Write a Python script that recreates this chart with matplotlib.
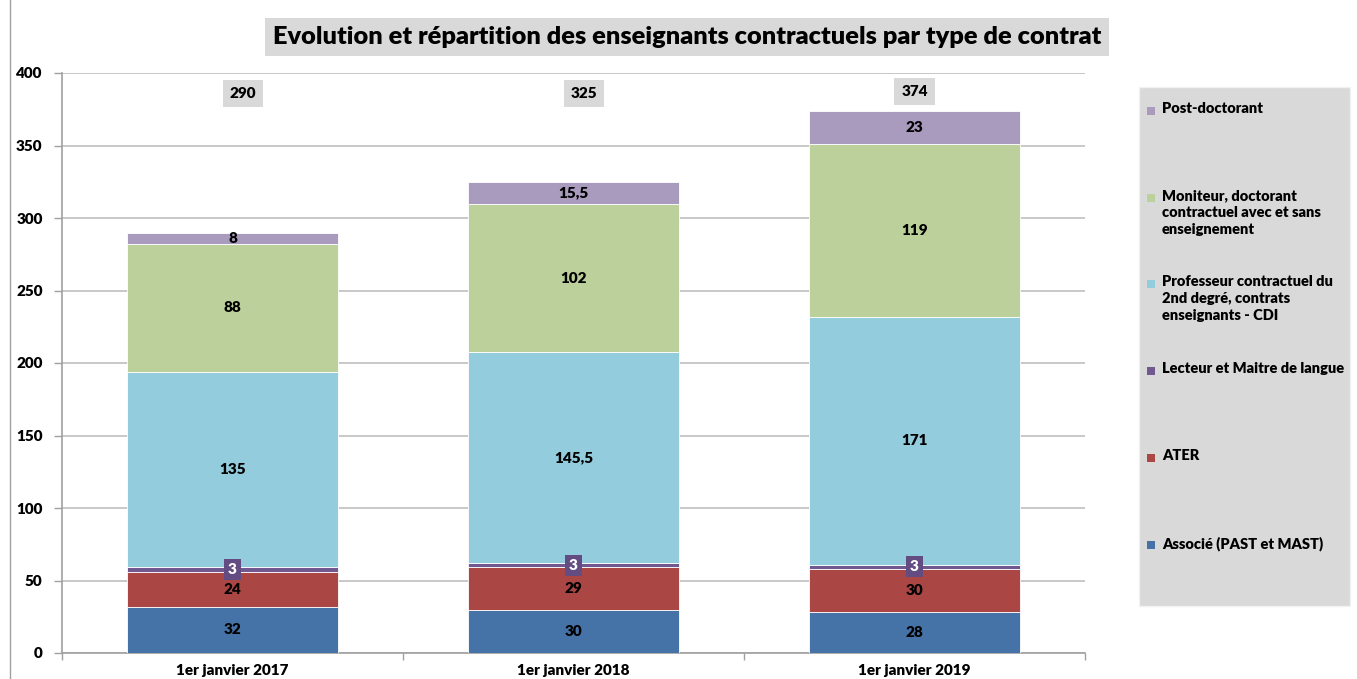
import matplotlib
matplotlib.use("Agg")
import matplotlib.pyplot as plt
from matplotlib.patches import Rectangle
from matplotlib.lines import Line2D
import numpy as np

plt.rcParams['font.family'] = ['Lato', 'DejaVu Sans']

categories = ["1er janvier 2017", "1er janvier 2018", "1er janvier 2019"]
series_names = [
    "Associé (PAST et MAST)",
    "ATER",
    "Lecteur et Maitre de langue",
    "Professeur contractuel du\n2nd degré, contrats\nenseignants - CDI",
    "Moniteur, doctorant\ncontractuel avec et sans\nenseignement",
    "Post-doctorant",
]
associe = [32, 30, 28]
ater = [24, 29, 30]
lecteur = [3, 3, 3]
professeur = [135, 145.5, 171]
moniteur = [88, 102, 119]
postdoc = [8, 15.5, 23]
totals = [290, 325, 374]
yticks = [0, 50, 100, 150, 200, 250, 300, 350, 400]

colors = ["#4572A7", "#AA4643", "#71588F", "#93CDDD", "#BBD09A", "#A99BBD"]
series = [associe, ater, lecteur, professeur, moniteur, postdoc]

W, H = 1357, 679
fig = plt.figure(figsize=(W / 100, H / 100), dpi=100)
ax = fig.add_axes([62 / W, 1 - 653 / H, (1085 - 62) / W, (653 - 73) / H])

x = np.arange(len(categories))
bottom = np.zeros(len(categories))
for vals, col in zip(series, colors):
    vals = np.array(vals, dtype=float)
    ax.bar(x, vals, bottom=bottom, width=0.62, color=col, edgecolor="white",
           linewidth=0.6, zorder=3)
    for xi, v, b in zip(x, vals, bottom):
        txt = (f"{v:g}").replace(".", ",")
        if col == "#71588F":
            ax.text(xi, b + v / 2, txt, ha="center", va="center", fontsize=11,
                    fontweight="heavy", color="white", zorder=5,
                    bbox=dict(boxstyle="square,pad=0.25", fc="#634C82", ec="none"))
        else:
            ax.text(xi, b + v / 2, txt, ha="center", va="center", fontsize=11,
                    fontweight="heavy", color="black", zorder=5)
    bottom += vals

for xi, t in zip(x, totals):
    ax.text(xi + (0.03 if xi < 2 else 0), 386 + (1 if xi == 2 else 0), str(t),
            ha="center", va="center", fontsize=11, fontweight="heavy",
            zorder=5, bbox=dict(boxstyle="square,pad=0.45", fc="#D9D9D9", ec="none"))

ax.set_xlim(-0.5, 2.5)
ax.set_ylim(0, 400)
ax.set_yticks(yticks)
ax.set_yticklabels([str(v) for v in yticks], fontsize=11, fontweight="heavy")
ax.yaxis.grid(True, color="#BFBFBF", linewidth=1.2, zorder=0)
ax.set_axisbelow(True)
ax.tick_params(axis="y", length=6, color="#A0A0A0", width=1, pad=8)
ax.set_xticks(x)
ax.set_xticklabels(categories, fontsize=11, fontweight="heavy")
ax.tick_params(axis="x", length=0, pad=8)
ax.set_xticks([-0.5, 0.5, 1.5, 2.5], minor=True)
ax.tick_params(axis="x", which="minor", length=5, color="#A0A0A0", width=1)
for s in ["top", "right"]:
    ax.spines[s].set_visible(False)
ax.spines["left"].set_color("#A0A0A0")
ax.spines["bottom"].set_color("#A0A0A0")
ax.spines["left"].set_linewidth(1.2)
ax.spines["bottom"].set_linewidth(1.2)

# title
fig.text(687 / W, 1 - 37 / H, "Evolution et répartition des enseignants contractuels par type de contrat",
         ha="center", va="center", fontsize=18.3, fontweight="heavy",
         bbox=dict(boxstyle="square,pad=0.3", fc="#D9D9D9", ec="none"))

# left frame line
fig.add_artist(Line2D([10 / W, 10 / W], [0, 1], transform=fig.transFigure,
                      color="#A0A0A0", linewidth=1))

# legend box
fig.add_artist(Rectangle((1139 / W, 1 - 606 / H), (1350 - 1139) / W, (606 - 87) / H,
                         transform=fig.transFigure, fc="#D9D9D9", ec="#F2F2F2",
                         linewidth=1, zorder=1))
leg_y = [111, 198, 284, 371, 458, 545]
leg_names = list(reversed(series_names))
leg_cols = list(reversed(colors))
for yy, name, col in zip(leg_y, leg_names, leg_cols):
    fig.add_artist(Rectangle((1147 / W, 1 - (yy + 4) / H), 8 / W, 8 / H,
                             transform=fig.transFigure, fc=col, ec="none", zorder=2))
    fig.text(1162 / W, 1 - (yy - 9) / H, name, ha="left", va="top", fontsize=10.5,
             fontweight="heavy", linespacing=1.35, zorder=3)

fig.savefig("out.png", dpi=100, facecolor="white")
